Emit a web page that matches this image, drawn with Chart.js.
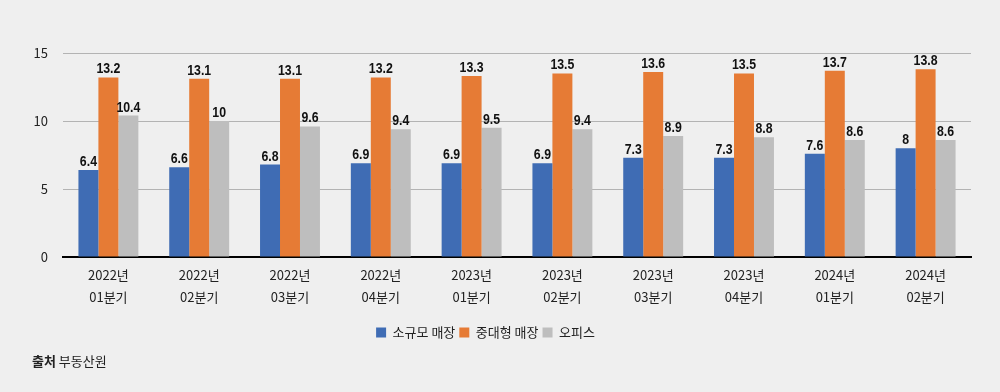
<!DOCTYPE html>
<html>
<head>
<meta charset="utf-8">
<script src="https://cdn.jsdelivr.net/npm/chart.js@4/dist/chart.umd.min.js"></script>
<style>
  html, body { margin: 0; padding: 0; background: #efefef; }
  #wrap { position: relative; width: 1000px; height: 392px; }
  #source {
    position: absolute; left: 32px; top: 352px;
    font-family: "Noto Sans CJK KR", "Noto Sans", sans-serif;
    font-size: 13px; color: #222; line-height: 18px;
  }
  #source b { font-weight: 700; }
</style>
</head>
<body>
<div id="wrap">
  <canvas id="chart" width="1000" height="392"></canvas>
  <div id="source"><b>출처</b> 부동산원</div>
</div>
<script>
// Data
const years = ["2022년", "2022년", "2022년", "2022년", "2023년", "2023년", "2023년", "2023년", "2024년", "2024년"];
const quarters = ["01분기", "02분기", "03분기", "04분기", "01분기", "02분기", "03분기", "04분기", "01분기", "02분기"];
const seriesNames = ["소규모 매장", "중대형 매장", "오피스"];
const smallShops = [6.4, 6.6, 6.8, 6.9, 6.9, 6.9, 7.3, 7.3, 7.6, 8];
const largeShops = [13.2, 13.1, 13.1, 13.2, 13.3, 13.5, 13.6, 13.5, 13.7, 13.8];
const offices = [10.4, 10, 9.6, 9.4, 9.5, 9.4, 8.9, 8.8, 8.6, 8.6];
const yTicks = [0, 5, 10, 15];

const colors = ["#3f6cb4", "#e67b35", "#bebebe"];
const korFont = '"Noto Sans CJK KR", "Noto Sans", sans-serif';

const labels = years.map((y, i) => [y, quarters[i]]);

// draws the number above each bar (slightly condensed bold)
const valueLabels = {
  id: "valueLabels",
  afterDatasetsDraw(chart) {
    const ctx = chart.ctx;
    chart.data.datasets.forEach((ds, di) => {
      chart.getDatasetMeta(di).data.forEach((bar, i) => {
        ctx.save();
        ctx.translate(bar.x, bar.y - 4);
        ctx.scale(0.88, 1);
        ctx.font = 'bold 14px "Liberation Sans", Arial, sans-serif';
        ctx.fillStyle = "#111";
        ctx.textAlign = "center";
        ctx.textBaseline = "alphabetic";
        ctx.fillText(String(ds.data[i]), 0, 0);
        ctx.restore();
      });
    });
  },
};

new Chart(document.getElementById("chart"), {
  type: "bar",
  data: {
    labels: labels,
    datasets: [
      { label: seriesNames[0], data: smallShops, backgroundColor: colors[0] },
      { label: seriesNames[1], data: largeShops, backgroundColor: colors[1] },
      { label: seriesNames[2], data: offices, backgroundColor: colors[2] },
    ],
  },
  options: {
    responsive: false,
    animation: false,
    devicePixelRatio: 1,
    layout: { padding: { left: 0, right: 29, top: 53, bottom: 43 } },
    datasets: {
      bar: { categoryPercentage: 0.66, barPercentage: 1.0, borderWidth: 0 },
    },
    plugins: {
      tooltip: { enabled: false },
      legend: {
        position: "bottom",
        labels: {
          font: { family: korFont, size: 13 },
          color: "#222",
          boxWidth: 10,
          boxHeight: 10,
          padding: 4,
          useBorderRadius: false,
        },
      },
    },
    scales: {
      x: {
        grid: { display: false },
        border: { color: "#000", width: 2 },
        ticks: {
          font: { family: korFont, size: 13, lineHeight: 1.7 },
          color: "#222",
          padding: -1,
          maxRotation: 0,
          autoSkip: false,
        },
        afterFit(scale) { scale.height = 65; },
      },
      y: {
        min: 0,
        max: 15,
        afterBuildTicks(scale) { scale.ticks = yTicks.map((v) => ({ value: v })); },
        grid: { color: "#b3b3b3", lineWidth: 1, drawTicks: false },
        border: { display: false },
        ticks: {
          font: { family: korFont, size: 13 },
          color: "#222",
          padding: 15,
        },
        afterFit(scale) { scale.width = 63; },
      },
    },
  },
  plugins: [valueLabels],
});
</script>
</body>
</html>
